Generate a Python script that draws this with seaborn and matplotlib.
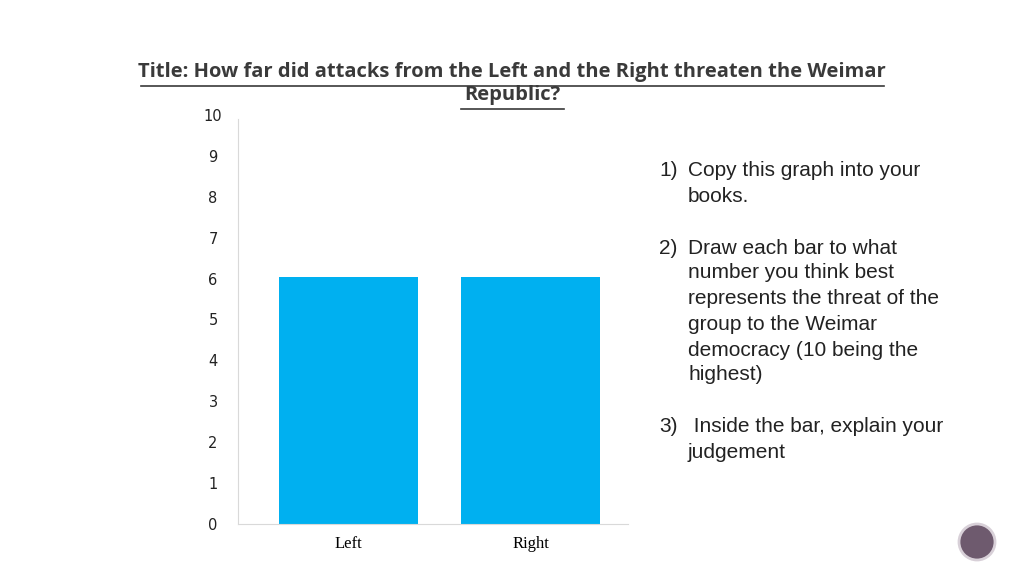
import matplotlib
matplotlib.use("Agg")
import matplotlib.pyplot as plt
import seaborn as sns
import pandas as pd
from matplotlib.patches import Circle

categories = ["Left", "Right"]
values = [6.05, 6.05]
yticks = [0, 1, 2, 3, 4, 5, 6, 7, 8, 9, 10]

W, H = 1024, 576
fig = plt.figure(figsize=(W/100, H/100), dpi=100)
ax = fig.add_axes([238/W, 1-524/H, (628-238)/W, (524-115)/H])
df = pd.DataFrame({"cat": categories, "val": values})
sns.barplot(data=df, x="cat", y="val", color="#00B0F0", saturation=1, width=0.764, ax=ax)
ax.set_ylim(0, 10)
ax.set_xlim(-0.607, 1.536)
ax.set_yticks(yticks)
ax.set_yticklabels([str(t) for t in yticks], fontsize=10.5, fontfamily="DejaVu Sans", color="#222222")
for l in ax.get_yticklabels():
    l.set_horizontalalignment("center")
ax.tick_params(axis="y", length=0, pad=18)
ax.tick_params(axis="x", length=0, pad=9)
for l in ax.get_xticklabels():
    l.set_fontfamily("Liberation Serif"); l.set_fontsize(12)
ax.set_xlabel(""); ax.set_ylabel("")
for s in ["top", "right"]:
    ax.spines[s].set_visible(False)
for s in ["left", "bottom"]:
    ax.spines[s].set_color("#D9D9D9")
ax.spines["left"].set_bounds(0, 9.9)

fig.text(512/W, 1-72/H, "Title: How far did attacks from the Left and the Right threaten the Weimar",
         ha="center", va="center", fontsize=14.5, fontweight="bold", color="#3A3A3A", fontfamily="Open Sans")
fig.text(512/W, 1-95/H, "Republic?", ha="center", va="center", fontsize=14.5, fontweight="bold",
         color="#3A3A3A", fontfamily="Open Sans")
fig.add_artist(plt.Line2D([141/W, 884/W], [1-86/H, 1-86/H], color="#3A3A3A", lw=1.2))
fig.add_artist(plt.Line2D([461/W, 564/W], [1-109/H, 1-109/H], color="#3A3A3A", lw=1.2))

lines = [("1)", "Copy this graph into your", 171), ("", "books.", 197),
         ("2)", "Draw each bar to what", 248), ("", "number you think best", 273),
         ("", "represents the threat of the", 299), ("", "group to the Weimar", 324),
         ("", "democracy (10 being the", 350), ("", "highest)", 375),
         ("3)", " Inside the bar, explain your", 427), ("", "judgement", 452)]
for num, txt, y in lines:
    if num:
        fig.text(659/W, 1-y/H, num, va="center", fontsize=15, fontfamily="Liberation Sans", color="#222222")
    fig.text(688/W, 1-y/H, txt, va="center", fontsize=15, fontfamily="Liberation Sans", color="#222222")

fig.add_artist(Circle((977, H-542), 18, transform=None, facecolor="#6E5A6E",
                      edgecolor="#D8D0D8", lw=2))
fig.savefig("out.png", dpi=100)
